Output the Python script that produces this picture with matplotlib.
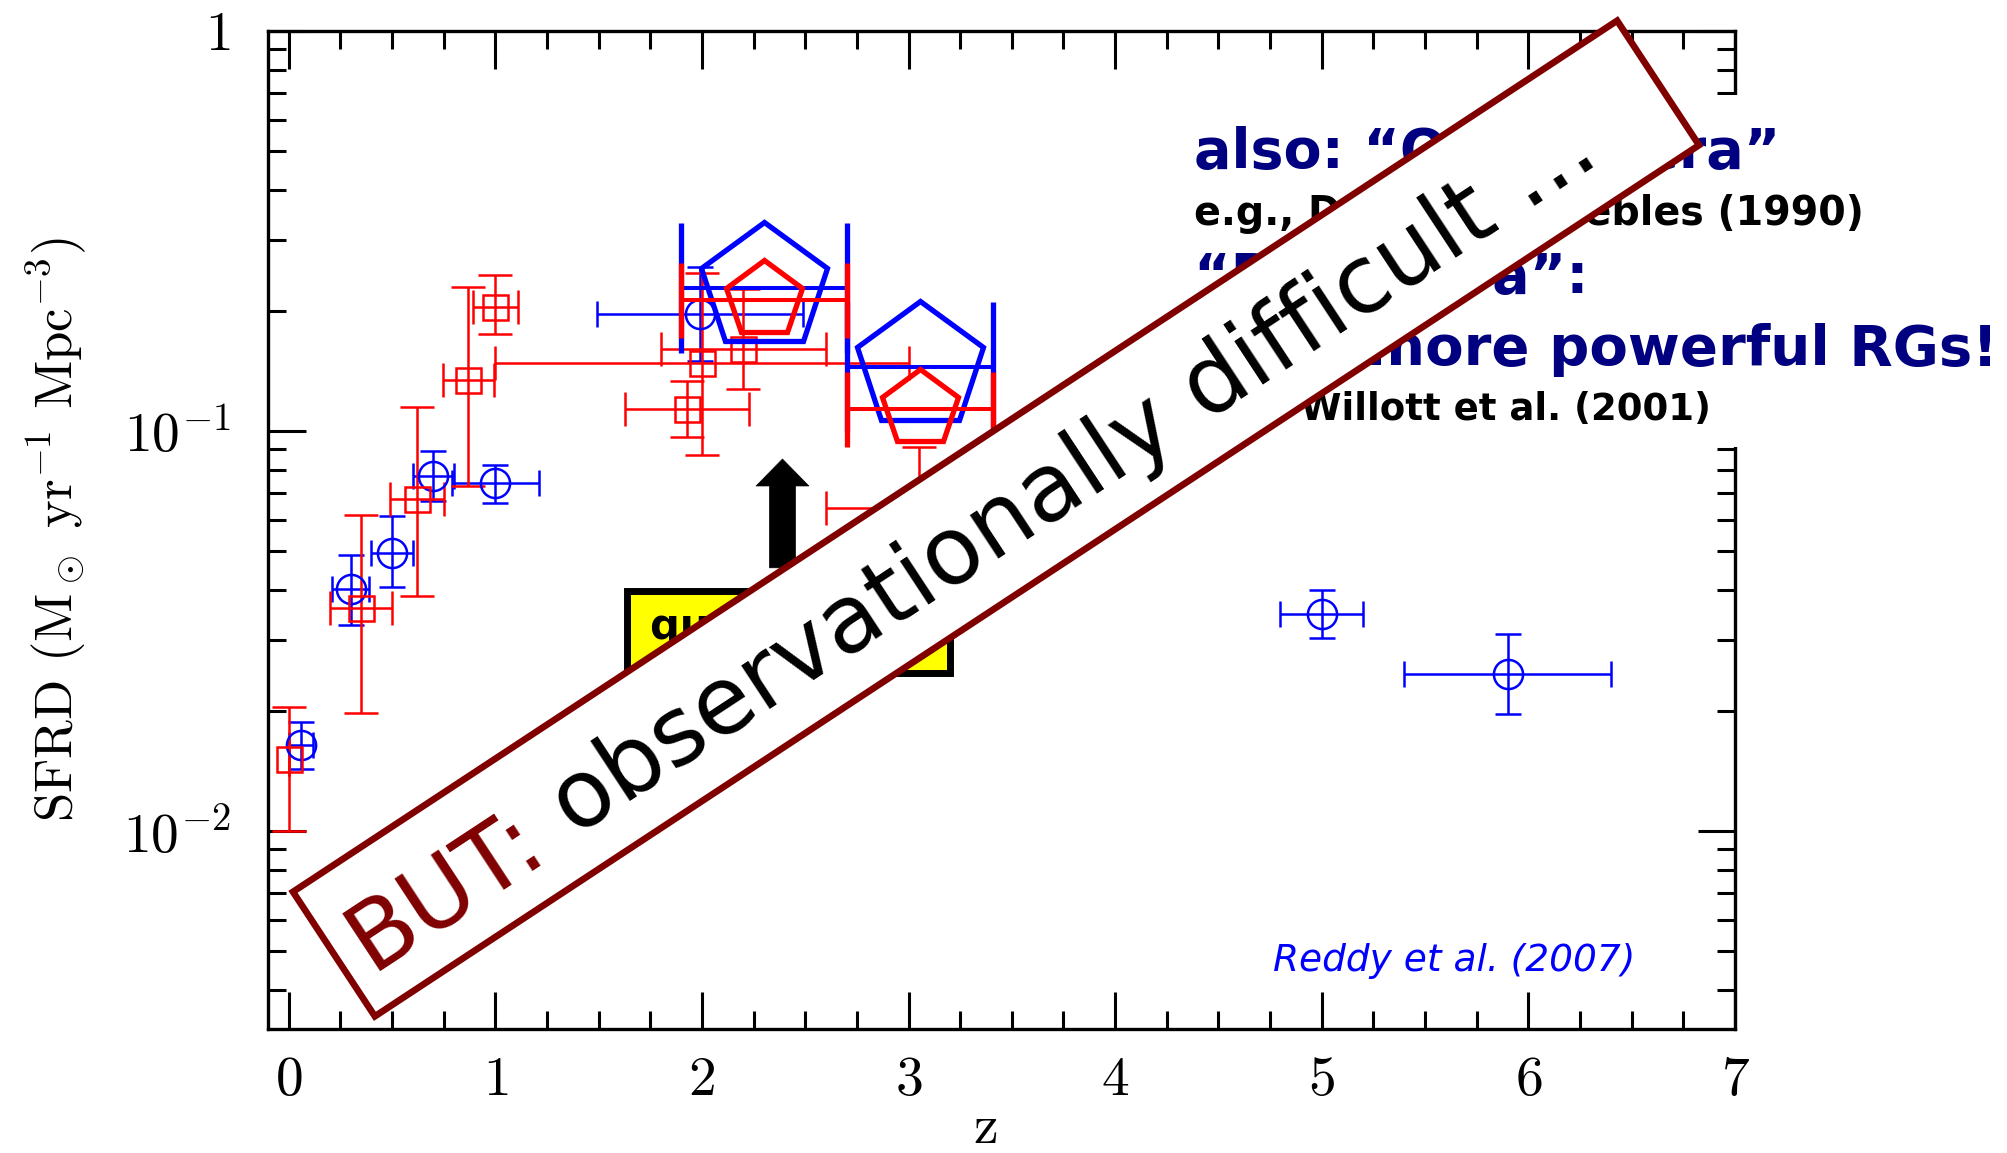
import numpy as np
import matplotlib
matplotlib.use('Agg')
import matplotlib.pyplot as plt
from matplotlib.patches import Rectangle, Polygon
from matplotlib.ticker import MultipleLocator, LogLocator, NullFormatter

plt.rcParams['font.family'] = 'cmr10'
plt.rcParams['mathtext.fontset'] = 'cm'
plt.rcParams['axes.unicode_minus'] = False

## star formation rate density compilation (blue circles)
z_circ = [0.06, 0.30, 0.50, 0.70, 1.00, 1.99, 5.00, 5.90]
sfrd_circ = [0.0164, 0.0403, 0.0496, 0.0772, 0.0741, 0.196, 0.0349, 0.0247]
circ_lo = [0.0021, 0.0076, 0.0089, 0.0104, 0.0081, 0.046, 0.0045, 0.0051]
circ_hi = [0.0023, 0.0087, 0.0116, 0.0118, 0.0083, 0.061, 0.0052, 0.0064]
circ_xerr = [0.06, 0.09, 0.10, 0.10, 0.21, 0.50, 0.20, 0.50]

## red squares
z_sq = [0.00, 0.35, 0.62, 0.87, 1.00, 2.00, 1.93, 2.20, 3.05]
sfrd_sq = [0.0151, 0.0362, 0.0676, 0.134, 0.204, 0.148, 0.1133, 0.160, 0.0643]
sq_lo = [0.0051, 0.0165, 0.029, 0.061, 0.029, 0.061, 0.0167, 0.033, 0.020]
sq_hi = [0.0053, 0.0255, 0.047, 0.095, 0.041, 0.100, 0.020, 0.066, 0.027]
sq_xerr = [0.0, 0.15, 0.13, 0.125, 0.11, 1.00, 0.30, 0.40, 0.45]

## big pentagons
z_pent = [2.30, 3.055]
pent_xerr = [0.40, 0.355]
sfrd_pent_blue = [0.228, 0.1445]
sfrd_pent_red = [0.2126, 0.1133]

## lower-limit arrow
z_arrow = 2.39
arrow_from, arrow_to = 0.0455, 0.0851

yticks = [0.01, 0.1, 1.0]
ylabels = [r'$10^{-2}$', r'$10^{-1}$', r'$1$']
xticks = [0, 1, 2, 3, 4, 5, 6, 7]
xlabels = [r'$%d$' % t for t in xticks]

W, H = 2007, 1153
fig = plt.figure(figsize=(W / 100, H / 100), dpi=100)
ax = fig.add_axes([268 / W, 1 - 1029 / H, (1735 - 268) / W, (1029 - 31) / H])
ax.set_yscale('log')
ax.set_xlim(-0.1, 7.0)
ax.set_ylim(10 ** -2.495, 1.0)

ax.errorbar(z_circ, sfrd_circ, yerr=[circ_lo, circ_hi], xerr=circ_xerr, fmt='o',
            ms=21, mfc='none', mec='blue', mew=1.8, ecolor='blue', elinewidth=1.8,
            capsize=9.5, capthick=1.8, zorder=3)
ax.errorbar(z_sq, sfrd_sq, yerr=[sq_lo, sq_hi], xerr=sq_xerr, fmt='s',
            ms=18, mfc='none', mec='red', mew=1.8, ecolor='red', elinewidth=1.8,
            capsize=12.5, capthick=1.8, zorder=3)
ax.errorbar(z_pent, sfrd_pent_blue, xerr=pent_xerr, fmt='p', ms=95, mfc='none',
            mec='blue', mew=3.8, ecolor='blue', elinewidth=2.9, capsize=47,
            capthick=3.6, zorder=4)
ax.errorbar(z_pent, sfrd_pent_red, xerr=pent_xerr, fmt='p', ms=57, mfc='none',
            mec='red', mew=3.8, ecolor='red', elinewidth=2.9, capsize=27,
            capthick=3.6, zorder=5)

ax.annotate('', xy=(z_arrow, arrow_to), xytext=(z_arrow, arrow_from),
            arrowprops=dict(arrowstyle='simple,head_length=1.94,head_width=3.8,tail_width=1.87',
                            mutation_scale=10, fc='black', ec='black', lw=0.5,
                            shrinkA=0, shrinkB=0), zorder=6)

# yellow label box
ax.add_patch(Rectangle((1.638, 0.0248), 1.565, 0.0150, fc='#ffff00', ec='black',
                       lw=5, zorder=6))
ax.text(1.75, 0.0302, 'quasar era', fontsize=30, fontweight='bold', family='DejaVu Sans',
        va='baseline', zorder=7)

ax.set_xticks(xticks, labels=xlabels)
ax.xaxis.set_minor_locator(MultipleLocator(0.25))
ax.set_yticks(yticks, labels=ylabels)
ax.yaxis.set_minor_locator(LogLocator(base=10, subs=np.arange(2, 10)))
ax.yaxis.set_minor_formatter(NullFormatter())
ax.tick_params(which='both', direction='in', top=True, right=True, width=2.2, labelsize=40)
ax.tick_params(which='major', length=27)
ax.tick_params(which='minor', length=13)
ax.tick_params(axis='x', which='major', pad=20)
ax.tick_params(axis='y', which='major', pad=27)
for s in ax.spines.values():
    s.set_linewidth(2.4)

ax.set_ylabel(r'SFRD (M$_\odot$ yr$^{-1}$ Mpc$^{-3}$)', fontsize=38)
ax.yaxis.set_label_coords(-0.123, 0.5)
ax.set_xlabel('z', fontsize=40)
ax.xaxis.set_label_coords(0.4894, -0.076)

fig.text(1273 / W, 1 - 971 / H, 'Reddy et al. (2007)', color='blue', style='italic',
         family='DejaVu Sans', fontsize=27, va='baseline')

# notes on the right, on white
fig.patches.append(Rectangle((1185 / W, 1 - 447 / H), (W - 1185) / W, (447 - 95) / H,
                             transform=fig.transFigure, fc='white', ec='none', zorder=1))
notes = [('also: \u201cQuasar era\u201d', 168, 40, '#000080'),
         ('e.g., Dunlop & Peebles (1990)', 225, 28.5, 'black'),
         ('\u201cRadio era\u201d:', 293, 40, '#000080'),
         ('even more powerful RGs!', 365, 40.5, '#000080'),
         ('e.g., Willott et al. (2001)', 420, 26.7, 'black')]
for txt, yb, fs, col in notes:
    fig.text(1194 / W, 1 - yb / H, txt, fontsize=fs, fontweight='bold',
             family='DejaVu Sans', color=col, va='baseline', zorder=3)

# rotated "BUT" banner
ang = 33.34
th = np.deg2rad(ang)
u = np.array([np.cos(th), np.sin(th)])
n = np.array([np.sin(th), -np.cos(th)])
c = np.array([996.0, 634.5])
blen, bwid = 1585.0, 149.0
corners = np.array([c - u * blen / 2 - n * bwid / 2, c + u * blen / 2 - n * bwid / 2,
                    c + u * blen / 2 + n * bwid / 2, c - u * blen / 2 + n * bwid / 2])
fig.patches.append(Polygon(corners / [W, H], closed=True, transform=fig.transFigure,
                           fc='white', ec='#800000', lw=4.8, zorder=10))

full = 'BUT: observationally difficult ...'
fs_band = 68
r = fig.canvas.get_renderer()
tmp = fig.text(0, 0, full, fontsize=fs_band, family='DejaVu Sans')
wpx = tmp.get_window_extent(renderer=r).width
tmp.remove()
start = c - u * (blen / 2 - 22) + n * 35
end = start + u * wpx
fig.text(*(start / [W, H]), 'BUT:', fontsize=fs_band, family='DejaVu Sans',
         color='#800000', rotation=ang, rotation_mode='anchor', ha='left',
         va='baseline', zorder=11)
fig.text(*(end / [W, H]), full[5:], fontsize=fs_band, family='DejaVu Sans',
         color='black', rotation=ang, rotation_mode='anchor', ha='right',
         va='baseline', zorder=11)

fig.savefig('out.png', dpi=100)
